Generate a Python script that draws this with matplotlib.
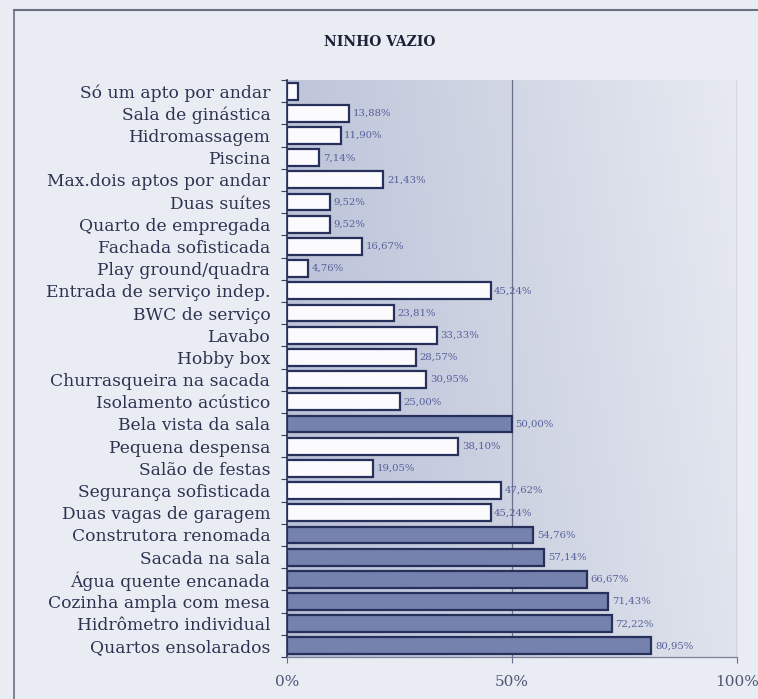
import numpy as np
import matplotlib
matplotlib.use("Agg")
import matplotlib.pyplot as plt
from matplotlib.colors import LinearSegmentedColormap
from matplotlib.lines import Line2D

categories = [
    "Só um apto por andar",
    "Sala de ginástica",
    "Hidromassagem",
    "Piscina",
    "Max.dois aptos por andar",
    "Duas suítes",
    "Quarto de empregada",
    "Fachada sofisticada",
    "Play ground/quadra",
    "Entrada de serviço indep.",
    "BWC de serviço",
    "Lavabo",
    "Hobby box",
    "Churrasqueira na sacada",
    "Isolamento acústico",
    "Bela vista da sala",
    "Pequena despensa",
    "Salão de festas",
    "Segurança sofisticada",
    "Duas vagas de garagem",
    "Construtora renomada",
    "Sacada na sala",
    "Água quente encanada",
    "Cozinha ampla com mesa",
    "Hidrômetro individual",
    "Quartos ensolarados",
]
values = [2.38, 13.88, 11.90, 7.14, 21.43, 9.52, 9.52, 16.67, 4.76, 45.24,
          23.81, 33.33, 28.57, 30.95, 25.00, 50.00, 38.10, 19.05, 47.62, 45.24,
          54.76, 57.14, 66.67, 71.43, 72.22, 80.95]
show_label = [False] + [True] * 25
x_ticks = [0, 50, 100]
x_tick_labels = ["0%", "50%", "100%"]

serif = ["DejaVu Serif"]
bg = "#e9ecf3"
text_col = "#2c3350"
label_col = "#55609a"

fig = plt.figure(figsize=(7.58, 6.99), dpi=100, facecolor=bg)
ax = fig.add_axes([287 / 758, 1 - 657 / 699, 450 / 758, 577 / 699])
ax.set_facecolor(bg)

n = len(categories)
ypos = np.arange(n)
ax.set_xlim(0, 100)
ax.set_ylim(n - 0.5, -0.5)

# shaded plot-area background: darker on the left, fading to the right
cmap = LinearSegmentedColormap.from_list("shade", ["#b7bfd6", "#cfd4e3", "#e7eaf1"])
gx = np.linspace(0, 1, 256)
gy = np.linspace(0, 1, 64)
G = 0.85 * gx[None, :] + 0.15 * (1 - gy[:, None])
ax.imshow(G, cmap=cmap, aspect="auto", extent=[0, 100, n - 0.5, -0.5],
          zorder=0, interpolation="bicubic", vmin=0, vmax=1)

ax.axvline(50, color="#6a7088", lw=0.9, zorder=1)
ax.axvline(100, color="#6a7088", lw=0.9, zorder=1)

for y, v, lab in zip(ypos, values, show_label):
    dark = v >= 50
    ax.barh(y, v, height=0.76,
            color="#7482ad" if dark else "#fbfbfd",
            edgecolor="#26305a", linewidth=1.6, zorder=2)
    if lab:
        ax.text(v + 0.8, y, f"{v:.2f}%".replace(".", ","), va="center", ha="left",
                fontsize=7.3, color=label_col, family=serif, zorder=3)

ax.set_yticks(ypos)
ax.set_yticklabels(categories, family=serif, fontsize=12.3, color=text_col)
ax.set_yticks(np.arange(n + 1) - 0.5, minor=True)
ax.tick_params(axis="y", which="major", length=0, pad=12)
ax.tick_params(axis="y", which="minor", length=4, color="#3a4060", width=0.8)

ax.set_xticks(x_ticks)
ax.set_xticklabels(x_tick_labels, family=serif, fontsize=11, color="#4e5676")
ax.tick_params(axis="x", length=4, color="#6a7088", pad=9)

for s in ["top", "right"]:
    ax.spines[s].set_visible(False)
ax.spines["left"].set_color("#26305a")
ax.spines["left"].set_linewidth(1.2)
ax.spines["bottom"].set_color("#7a8098")
ax.spines["bottom"].set_linewidth(0.9)

fig.text(380 / 758, 1 - 42 / 699, "NINHO VAZIO", ha="center", va="center",
         family=serif, fontsize=10, fontweight="bold", color="#1e2238")

# outer frame lines
fig.add_artist(Line2D([14 / 758, 1.0], [1 - 10 / 699, 1 - 10 / 699],
                      transform=fig.transFigure, color="#6a6e80", lw=1.5))
fig.add_artist(Line2D([14 / 758, 14 / 758], [0, 1 - 10 / 699],
                      transform=fig.transFigure, color="#6a6e80", lw=1.2))

fig.savefig("out.png", dpi=100, facecolor=bg)
